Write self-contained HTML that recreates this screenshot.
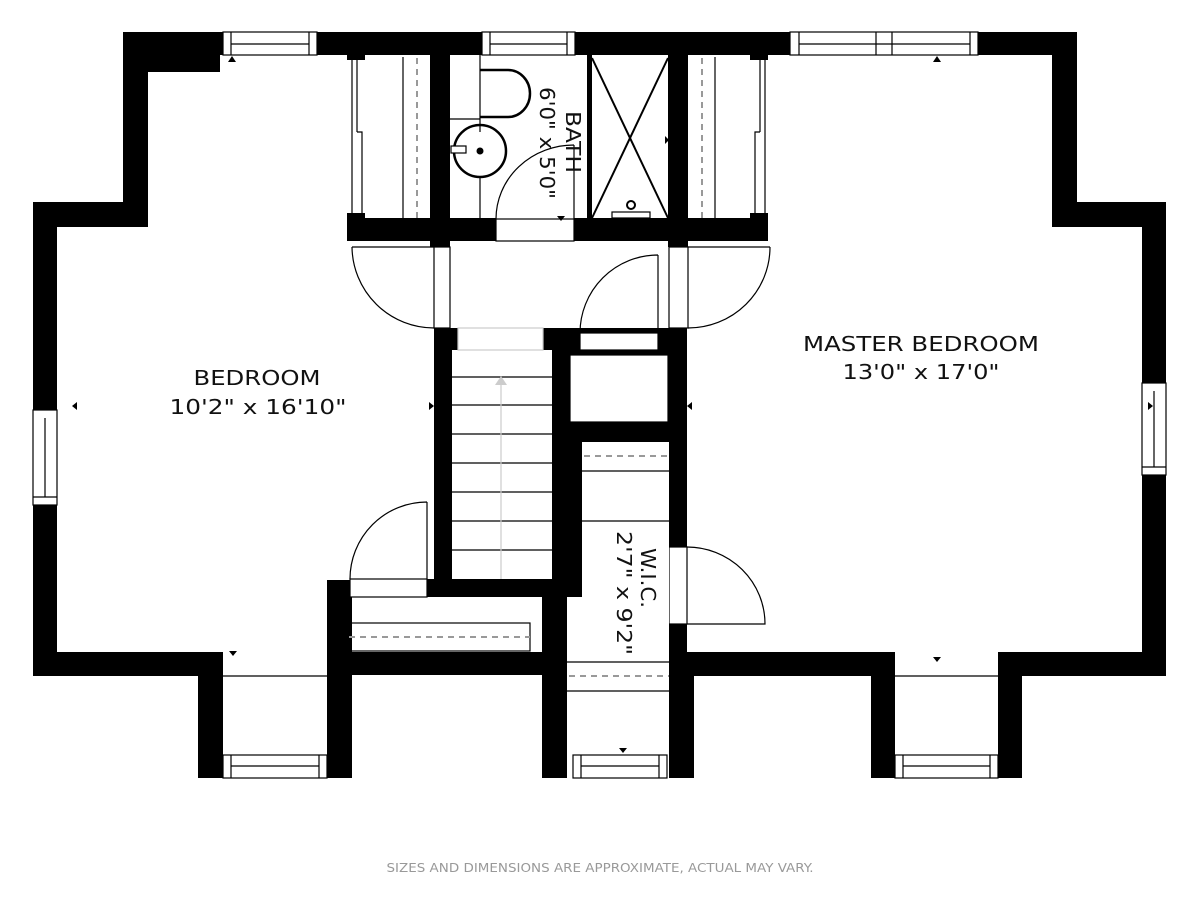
<!DOCTYPE html>
<html><head><meta charset="utf-8"><style>html,body{margin:0;padding:0;background:#fff}svg{display:block}</style></head>
<body>
<svg width="1200" height="900" viewBox="0 0 1200 900" xmlns="http://www.w3.org/2000/svg" font-family="DejaVu Sans, Liberation Sans, sans-serif">
<rect width="1200" height="900" fill="#fff"/>
<g fill="#000">
<!-- top -->
<rect x="123" y="32" width="954" height="23"/>
<rect x="123" y="32" width="25" height="195"/>
<rect x="148" y="55" width="72" height="17"/>
<rect x="33" y="202" width="115" height="25"/>
<rect x="33" y="202" width="24" height="474"/>
<rect x="33" y="652" width="190" height="24"/>
<rect x="198" y="652" width="25" height="126"/>
<rect x="327" y="580" width="25" height="198"/>
<rect x="427" y="579" width="140" height="18"/>
<rect x="327" y="652" width="240" height="23"/>
<rect x="434" y="328" width="18" height="252"/>
<rect x="434" y="328" width="24" height="22"/>
<rect x="347" y="218" width="149" height="23"/>
<rect x="574" y="218" width="194" height="23"/>
<rect x="430" y="55" width="20" height="192"/>
<rect x="587" y="55" width="5" height="164"/>
<rect x="668" y="55" width="20" height="192"/>
<rect x="347" y="55" width="18" height="5"/>
<rect x="750" y="55" width="18" height="5"/>
<rect x="347" y="213" width="18" height="6"/>
<rect x="750" y="213" width="18" height="6"/>
<!-- central block -->
<rect x="543" y="328" width="37" height="22"/>
<rect x="552" y="328" width="135" height="114"/>
<rect x="552" y="442" width="30" height="155"/>
<rect x="542" y="597" width="25" height="181"/>
<rect x="669" y="328" width="18" height="219"/>
<rect x="669" y="624" width="18" height="28"/>
<rect x="669" y="652" width="25" height="126"/>
<!-- master -->
<rect x="687" y="652" width="208" height="24"/>
<rect x="871" y="652" width="24" height="126"/>
<rect x="998" y="652" width="24" height="126"/>
<rect x="998" y="652" width="168" height="24"/>
<rect x="1052" y="32" width="25" height="195"/>
<rect x="1052" y="202" width="114" height="25"/>
<rect x="1142" y="202" width="24" height="474"/>
</g>
<!-- white openings -->
<g fill="#fff" stroke="#000" stroke-width="1.2">
<rect x="570" y="355" width="98" height="67"/>
<rect x="580" y="333" width="78" height="17"/>
<rect x="458" y="328" width="85" height="22" stroke="#ccc"/>
<rect x="350" y="579" width="77" height="18"/>
<rect x="496" y="219" width="78" height="22"/>
<rect x="669" y="247" width="19" height="81"/>
<rect x="434" y="247" width="16" height="81"/>
<rect x="669" y="547" width="18" height="77"/>
<rect x="582" y="442" width="87" height="155" stroke="none"/>
<rect x="567" y="597" width="102" height="55" stroke="none"/>
<rect x="567" y="652" width="102" height="103" stroke="none"/>
</g>
<!-- windows -->
<g fill="#fff" stroke="#000" stroke-width="1.2">
<rect x="223" y="32" width="94" height="23"/><line x1="231" y1="44" x2="309" y2="44"/><line x1="231" y1="32" x2="231" y2="55"/><line x1="309" y1="32" x2="309" y2="55"/>
<rect x="482" y="32" width="93" height="23"/><line x1="490" y1="44" x2="567" y2="44"/><line x1="490" y1="32" x2="490" y2="55"/><line x1="567" y1="32" x2="567" y2="55"/>
<rect x="790" y="32" width="188" height="23"/><line x1="799" y1="44" x2="970" y2="44"/><line x1="799" y1="32" x2="799" y2="55"/><line x1="876" y1="32" x2="876" y2="55"/><line x1="892" y1="32" x2="892" y2="55"/><line x1="970" y1="32" x2="970" y2="55"/>
<rect x="33" y="410" width="24" height="95"/><line x1="45" y1="418" x2="45" y2="497"/><line x1="33" y1="497" x2="57" y2="497"/>
<rect x="1142" y="383" width="24" height="92"/><line x1="1154" y1="391" x2="1154" y2="467"/><line x1="1142" y1="467" x2="1166" y2="467"/>
<rect x="223" y="755" width="104" height="23"/><line x1="231" y1="766" x2="319" y2="766"/><line x1="231" y1="755" x2="231" y2="778"/><line x1="319" y1="755" x2="319" y2="778"/>
<rect x="573" y="755" width="94" height="23"/><line x1="581" y1="766" x2="659" y2="766"/><line x1="581" y1="755" x2="581" y2="778"/><line x1="659" y1="755" x2="659" y2="778"/>
<rect x="895" y="755" width="103" height="23"/><line x1="903" y1="766" x2="990" y2="766"/><line x1="903" y1="755" x2="903" y2="778"/><line x1="990" y1="755" x2="990" y2="778"/>
</g>
<g fill="none" stroke="#000" stroke-width="1.2">
<line x1="223" y1="676" x2="327" y2="676"/>
<line x1="895" y1="676" x2="998" y2="676"/>
<!-- doors -->
<path d="M352 247 H434 M352 247 A82 82 0 0 0 434 328"/>
<path d="M770 247 H688 M770 247 A82 81 0 0 1 688 328"/>
<path d="M658 333 V255 M658 255 A78 78 0 0 0 580 333"/>
<path d="M574 219 V145 M574 145 A78 74 0 0 0 496 219"/>
<path d="M427 579 V502 M427 502 A77 77 0 0 0 350 579"/>
<path d="M687 547 A78 77 0 0 1 765 624 H687"/>
<!-- closets -->
<line x1="403" y1="57" x2="403" y2="218"/>
<path d="M352 60 V213 M357 60 V132 M357 132 H362 V213"/>
<line x1="715" y1="57" x2="715" y2="218"/>
<path d="M765 60 V213 M760 60 V132 M760 132 H755 V213"/>
<!-- bath -->
<line x1="480" y1="55" x2="480" y2="132"/>
<line x1="480" y1="178" x2="480" y2="218"/>
<line x1="450" y1="119" x2="480" y2="119"/>
<path d="M480 70 H508 A22 23.5 0 0 1 508 117 H480" stroke-width="2.5"/>
<circle cx="480" cy="151" r="26" stroke-width="2.5"/>
<rect x="451" y="146" width="15" height="7" fill="#fff"/>
<line x1="592" y1="58" x2="668" y2="218" stroke-width="2"/>
<line x1="668" y1="58" x2="592" y2="218" stroke-width="2"/>
<rect x="612" y="212" width="38" height="6"/>
<!-- stairs -->
<line x1="452" y1="377" x2="552" y2="377"/><line x1="452" y1="405" x2="552" y2="405"/>
<line x1="452" y1="434" x2="552" y2="434"/><line x1="452" y1="463" x2="552" y2="463"/>
<line x1="452" y1="492" x2="552" y2="492"/><line x1="452" y1="521" x2="552" y2="521"/>
<line x1="452" y1="550" x2="552" y2="550"/>
<line x1="501" y1="385" x2="501" y2="579" stroke="#ccc"/>
<!-- cabinet -->
<rect x="346" y="623" width="184" height="28"/>
<!-- WIC -->
<line x1="582" y1="471" x2="669" y2="471"/>
<line x1="582" y1="521" x2="669" y2="521"/>
<line x1="567" y1="662" x2="669" y2="662"/>
<line x1="567" y1="691" x2="669" y2="691"/>
</g>
<g stroke="#999" stroke-width="2" stroke-dasharray="6 5" fill="none">
<line x1="417" y1="58" x2="417" y2="218"/>
<line x1="702" y1="58" x2="702" y2="218"/>
<line x1="349" y1="637" x2="530" y2="637"/>
<line x1="584" y1="456" x2="669" y2="456"/>
<line x1="569" y1="676" x2="669" y2="676"/>
</g>
<polygon points="495,385 501,376 507,385" fill="#ccc"/>
<circle cx="480" cy="151" r="3.5"/>
<circle cx="631" cy="205" r="4" fill="none" stroke="#000" stroke-width="2"/>
<g fill="#000">
<polygon points="228,62 232,56 236,62"/><polygon points="933,62 937,56 941,62"/>
<polygon points="229,651 237,651 233,656"/><polygon points="933,657 941,657 937,662"/>
<polygon points="619,748 627,748 623,753"/><polygon points="557,216 565,216 561,221"/>
<polygon points="72,406 77,402 77,410"/><polygon points="429,402 434,406 429,410"/>
<polygon points="692,402 687,406 692,410"/><polygon points="1148,402 1153,406 1148,410"/>
<polygon points="665,136 669,140 665,144"/>
</g>
<g font-size="20" fill="#111" text-anchor="middle">
<text x="257" y="385" textLength="127" lengthAdjust="spacingAndGlyphs">BEDROOM</text>
<text x="258" y="414" textLength="177" lengthAdjust="spacingAndGlyphs">10'2" x 16'10"</text>
<text x="921" y="351" textLength="236" lengthAdjust="spacingAndGlyphs">MASTER BEDROOM</text>
<text x="921" y="379" textLength="157" lengthAdjust="spacingAndGlyphs">13'0" x 17'0"</text>
<text transform="translate(566,142) rotate(90)" textLength="62" lengthAdjust="spacingAndGlyphs">BATH</text>
<text transform="translate(540,143) rotate(90)" textLength="112" lengthAdjust="spacingAndGlyphs">6'0" x 5'0"</text>
<text transform="translate(641,578) rotate(90)" textLength="60" lengthAdjust="spacingAndGlyphs">W.I.C.</text>
<text transform="translate(617,593) rotate(90)" textLength="124" lengthAdjust="spacingAndGlyphs">2'7" x 9'2"</text>
</g>
<text x="600" y="872" font-size="12" fill="#999" text-anchor="middle" textLength="427" lengthAdjust="spacingAndGlyphs">SIZES AND DIMENSIONS ARE APPROXIMATE, ACTUAL MAY VARY.</text>
</svg>
</body></html>
